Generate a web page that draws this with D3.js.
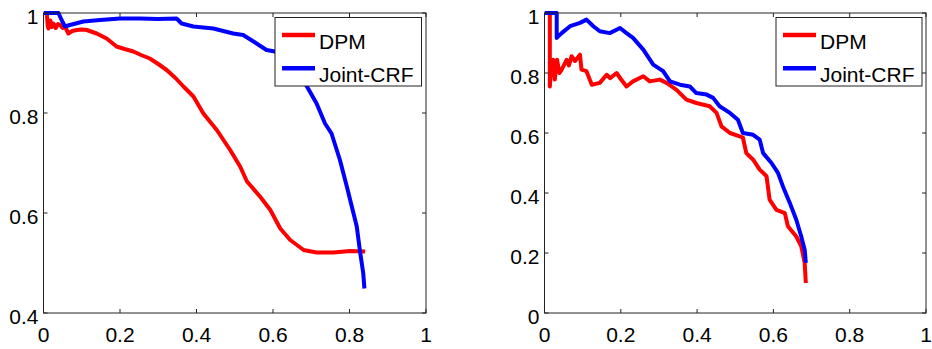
<!DOCTYPE html>
<html>
<head>
<meta charset="utf-8">
<script src="https://cdn.jsdelivr.net/npm/d3@7"></script>
<style>
  html, body { margin: 0; padding: 0; background: #fff; }
  svg text { font-family: "Liberation Sans", Arial, Helvetica, sans-serif; }
</style>
</head>
<body>
<svg id="chart" width="932" height="349"></svg>
<script>
// ---------------- DATA ----------------
const seriesNames = ["DPM", "Joint-CRF"];
const seriesColors = ["#ff0000", "#0000ff"];

// Left panel
const leftXTicks = [0, 0.2, 0.4, 0.6, 0.8, 1];
const leftYTicks = [0.4, 0.6, 0.8, 1];
const leftDPM = [
  [0.009, 0.996], [0.011, 0.975], [0.013, 0.969], [0.018, 0.985], [0.022, 0.972],
  [0.026, 0.979], [0.032, 0.970], [0.038, 0.978], [0.043, 0.976], [0.050, 0.970],
  [0.056, 0.973], [0.065, 0.959], [0.075, 0.964], [0.087, 0.966], [0.100, 0.967],
  [0.113, 0.966], [0.139, 0.959], [0.165, 0.949], [0.191, 0.933], [0.212, 0.928],
  [0.235, 0.923], [0.255, 0.916], [0.278, 0.909], [0.300, 0.898], [0.322, 0.886],
  [0.345, 0.870], [0.366, 0.853], [0.392, 0.833], [0.418, 0.799], [0.453, 0.766],
  [0.488, 0.726], [0.514, 0.693], [0.532, 0.663], [0.566, 0.633], [0.593, 0.606],
  [0.619, 0.569], [0.645, 0.546], [0.680, 0.526], [0.714, 0.521], [0.758, 0.521],
  [0.801, 0.524], [0.841, 0.523]
];
const leftCRF = [
  [0.000, 1.000], [0.039, 1.000], [0.048, 0.985], [0.056, 0.973], [0.069, 0.976],
  [0.104, 0.983], [0.148, 0.986], [0.200, 0.989], [0.252, 0.989], [0.300, 0.988],
  [0.348, 0.989], [0.361, 0.979], [0.392, 0.973], [0.444, 0.969], [0.496, 0.959],
  [0.522, 0.956], [0.549, 0.943], [0.583, 0.926], [0.605, 0.923], [0.650, 0.895],
  [0.688, 0.854], [0.714, 0.819], [0.736, 0.779], [0.753, 0.759], [0.775, 0.706],
  [0.793, 0.653], [0.806, 0.613], [0.819, 0.573], [0.827, 0.526], [0.836, 0.479],
  [0.839, 0.449]
];

// Right panel
const rightXTicks = [0, 0.2, 0.4, 0.6, 0.8, 1];
const rightYTicks = [0, 0.2, 0.4, 0.6, 0.8, 1];
const rightDPM = [
  [0.014, 1.000], [0.014, 0.755], [0.018, 0.830], [0.023, 0.844], [0.027, 0.778],
  [0.033, 0.844], [0.039, 0.800], [0.045, 0.811], [0.058, 0.844], [0.064, 0.825],
  [0.071, 0.856], [0.080, 0.840], [0.093, 0.861], [0.097, 0.811], [0.110, 0.806],
  [0.124, 0.761], [0.145, 0.767], [0.163, 0.794], [0.172, 0.783], [0.189, 0.800],
  [0.200, 0.780], [0.215, 0.755], [0.232, 0.772], [0.259, 0.789], [0.276, 0.772],
  [0.302, 0.778], [0.320, 0.767], [0.346, 0.744], [0.372, 0.711], [0.398, 0.700],
  [0.433, 0.689], [0.451, 0.667], [0.464, 0.622], [0.486, 0.600], [0.512, 0.589],
  [0.520, 0.585], [0.529, 0.533], [0.547, 0.511], [0.564, 0.478], [0.582, 0.456],
  [0.590, 0.378], [0.608, 0.344], [0.630, 0.333], [0.638, 0.289], [0.660, 0.255],
  [0.673, 0.222], [0.682, 0.167], [0.685, 0.100]
];
const rightCRF = [
  [0.000, 1.000], [0.032, 1.000], [0.032, 0.917], [0.045, 0.933], [0.067, 0.956],
  [0.093, 0.967], [0.110, 0.978], [0.128, 0.956], [0.145, 0.939], [0.171, 0.933],
  [0.198, 0.950], [0.215, 0.933], [0.232, 0.917], [0.259, 0.878], [0.285, 0.828],
  [0.311, 0.806], [0.329, 0.772], [0.355, 0.761], [0.381, 0.755], [0.398, 0.733],
  [0.425, 0.728], [0.442, 0.717], [0.459, 0.689], [0.486, 0.667], [0.507, 0.644],
  [0.520, 0.600], [0.547, 0.594], [0.564, 0.578], [0.573, 0.533], [0.595, 0.500],
  [0.612, 0.467], [0.625, 0.422], [0.643, 0.367], [0.660, 0.311], [0.673, 0.255],
  [0.682, 0.211], [0.685, 0.167]
];

// ---------------- DRAW ----------------
const svg = d3.select("#chart");
const fontSize = 21;

function tickFmt(v) {
  return (v === 0 || v === 1) ? String(v) : String(v);
}

function panel(opts) {
  const { left, right, top, bottom, xDomain, yDomain, xTicks, yTicks, series, legend } = opts;
  const x = d3.scaleLinear().domain(xDomain).range([left, right]);
  const y = d3.scaleLinear().domain(yDomain).range([bottom, top]);
  const g = svg.append("g");

  // data lines (clipped to the box)
  const clipId = "clip" + Math.round(left);
  svg.append("clipPath").attr("id", clipId)
    .append("rect").attr("x", left).attr("y", top - 3)
    .attr("width", right - left).attr("height", bottom - top + 3);

  const line = d3.line().x(d => x(d[0])).y(d => y(d[1]));
  series.forEach((s, i) => {
    g.append("path")
      .attr("d", line(s))
      .attr("fill", "none")
      .attr("stroke", seriesColors[i])
      .attr("stroke-width", 4)
      .attr("stroke-linejoin", "round")
      .attr("clip-path", `url(#${clipId})`);
  });

  // box
  g.append("rect")
    .attr("x", left).attr("y", top)
    .attr("width", right - left).attr("height", bottom - top)
    .attr("fill", "none").attr("stroke", "#222").attr("stroke-width", 1);

  const tl = 4;
  // x ticks (bottom & top, inward)
  xTicks.forEach(v => {
    const px = x(v);
    g.append("line").attr("x1", px).attr("x2", px).attr("y1", bottom).attr("y2", bottom - tl)
      .attr("stroke", "#222");
    g.append("line").attr("x1", px).attr("x2", px).attr("y1", top).attr("y2", top + tl)
      .attr("stroke", "#222");
    g.append("text").attr("x", px).attr("y", bottom + 29)
      .attr("text-anchor", "middle").attr("font-size", fontSize).attr("fill", "#000")
      .text(tickFmt(v));
  });
  // y ticks (left & right, inward)
  yTicks.forEach(v => {
    const py = y(v);
    g.append("line").attr("x1", left).attr("x2", left + tl).attr("y1", py).attr("y2", py)
      .attr("stroke", "#222");
    g.append("line").attr("x1", right).attr("x2", right - tl).attr("y1", py).attr("y2", py)
      .attr("stroke", "#222");
    g.append("text").attr("x", left - 5).attr("y", py + 11)
      .attr("text-anchor", "end").attr("font-size", fontSize).attr("fill", "#000")
      .text(tickFmt(v));
  });

  // legend
  const lg = g.append("g");
  lg.append("rect")
    .attr("x", legend.x).attr("y", legend.y)
    .attr("width", legend.w).attr("height", legend.h)
    .attr("fill", "#fff").attr("stroke", "#222").attr("stroke-width", 1);
  seriesNames.forEach((name, i) => {
    const ly = legend.y + 17.5 + i * 33.3;
    lg.append("line")
      .attr("x1", legend.x + 7).attr("x2", legend.x + 40)
      .attr("y1", ly).attr("y2", ly)
      .attr("stroke", seriesColors[i]).attr("stroke-width", 4.5);
    lg.append("text")
      .attr("x", legend.x + 44).attr("y", ly + 13.5)
      .attr("font-size", fontSize).attr("fill", "#000")
      .text(name);
  });
}

panel({
  left: 43.5, right: 426, top: 13, bottom: 313,
  xDomain: [0, 1], yDomain: [0.4, 1],
  xTicks: leftXTicks, yTicks: leftYTicks,
  series: [leftDPM, leftCRF],
  legend: { x: 275, y: 17.5, w: 146.5, h: 68.5 }
});

panel({
  left: 544.5, right: 926, top: 13, bottom: 313,
  xDomain: [0, 1], yDomain: [0, 1],
  xTicks: rightXTicks, yTicks: rightYTicks,
  series: [rightDPM, rightCRF],
  legend: { x: 776, y: 17.5, w: 146, h: 68.5 }
});
</script>
</body>
</html>
